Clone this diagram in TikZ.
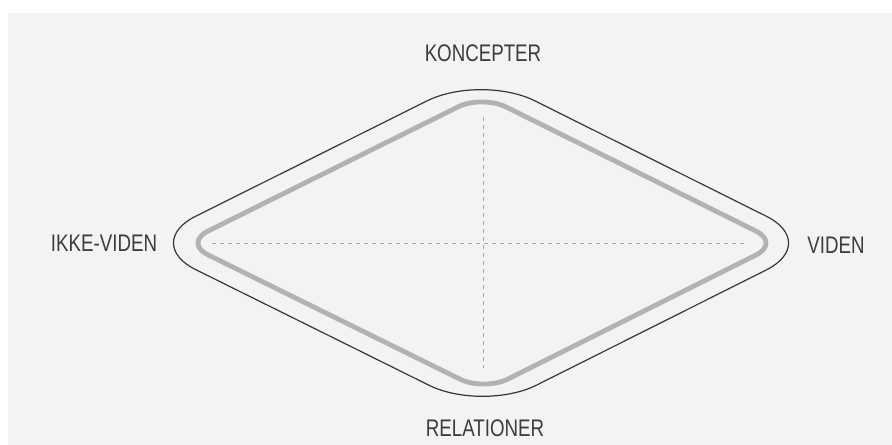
\documentclass[tikz,border=0pt]{standalone}
\usepackage{fontspec}
\newfontfamily\labfont{Liberation Sans}[FakeStretch=0.78]
\definecolor{bgpaper}{RGB}{243,243,243}
\definecolor{outerline}{RGB}{55,55,55}
\definecolor{innerline}{RGB}{178,178,178}
\definecolor{axisline}{RGB}{170,170,170}
\definecolor{labtext}{RGB}{60,60,60}
\tikzset{
  lab/.style={font=\labfont\fontsize{18pt}{20pt}\selectfont, text=labtext, inner sep=0pt},
  outerring/.style={draw=outerline, line width=0.9pt, rounded corners=45pt},
  innerring/.style={draw=innerline, line width=3.6pt, rounded corners=20pt},
  axisdash/.style={draw=axisline, line width=0.6pt, dash pattern=on 3pt off 3pt}
}
\begin{document}
\begin{tikzpicture}[x=0.75pt,y=-0.75pt]
\fill[white] (0,0) rectangle (892,445);
\fill[bgpaper] (8,13) rectangle (892,445);
\useasboundingbox (0,0) rectangle (892,445);
% outer ring
\coordinate (oL) at (142,243);
\coordinate (oT) at (481,74);
\coordinate (oR) at (820,243);
\coordinate (oB) at (483,412);
\path[outerring] (oL) -- (oT) -- (oR) -- (oB) -- cycle;
% inner ring
\coordinate (iL) at (184,243);
\coordinate (iT) at (482,95);
\coordinate (iR) at (780,243);
\coordinate (iB) at (484,391);
\path[innerring] (iL) -- (iT) -- (iR) -- (iB) -- cycle;
% axes
\coordinate (hL) at (212,243);
\coordinate (hR) at (747,243);
\coordinate (vT) at (483,117);
\coordinate (vB) at (483,368);
\path[axisdash] (hL) -- (hR);
\path[axisdash] (vT) -- (vB);
% labels
\node[lab] (konc) at (483,53) {KONCEPTER};
\node[lab] (ikke) at (104,243) {IKKE-VIDEN};
\node[lab] (viden) at (836,245) {VIDEN};
\node[lab] (rel) at (485,428) {RELATIONER};
\end{tikzpicture}
\end{document}
